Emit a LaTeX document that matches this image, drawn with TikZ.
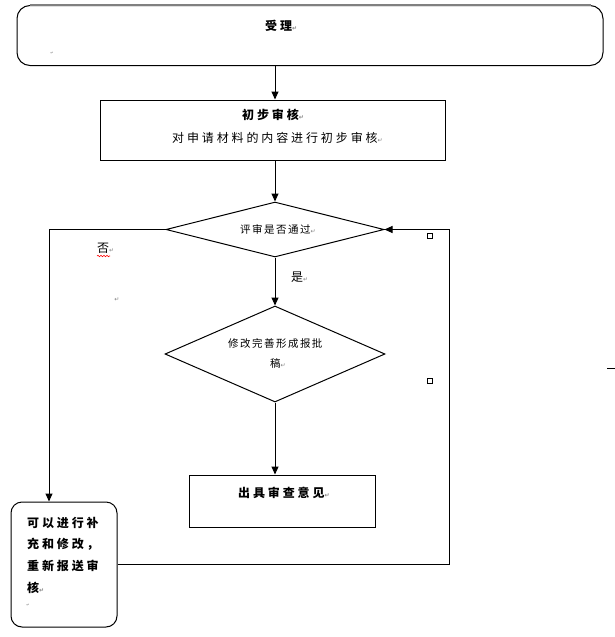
\documentclass[tikz,border=0pt]{standalone}
\usepackage{fontspec}
\usetikzlibrary{arrows.meta,shapes.geometric,decorations.pathmorphing}
\newfontfamily\cjk{Noto Sans CJK SC}
\newfontfamily\djv{DejaVu Sans}
\newcommand{\retm}{{\color{gray}\djv\fontsize{6}{6}\selectfont ↵}}
\newcommand{\tinym}{{\color{gray}\djv\fontsize{4}{4}\selectfont ↵}}
\tikzset{
  ln/.style={line width=1pt, draw=black},
  arr/.style={ln, -{Triangle[length=8pt,width=7pt]}},
  boxshape/.style={ln, rectangle, inner sep=0pt, fill=white},
  rboxshape/.style={boxshape, rounded corners=11pt},
  dshape/.style={ln, diamond, inner sep=0pt, fill=white},
  bigtxt/.style={inner sep=0pt, anchor=west, font=\cjk\addfontfeatures{LetterSpace=24}\fontsize{12}{12}\selectfont},
  boldtxt/.style={bigtxt, font=\cjk\bfseries\addfontfeatures{LetterSpace=24}\fontsize{12}{12}\selectfont},
  smalltxt/.style={inner sep=0pt, anchor=west, font=\cjk\addfontfeatures{LetterSpace=14}\fontsize{10.5}{10.5}\selectfont},
  marksq/.style={ln, rectangle, minimum size=5pt, inner sep=0pt}
}
\begin{document}
\begin{tikzpicture}[x=1pt,y=-1pt]
\useasboundingbox (0,0) rectangle (615,637);
\fill[white] (0,0) rectangle (615,637);
% shapes
\node[rboxshape, minimum width=586pt, minimum height=60pt, rounded corners=13pt] (accept) at (310,35.5) {};
\draw[gray, line width=1.2pt] ([xshift=13pt]accept.north west) -- ([xshift=-13pt]accept.north east);
\node[boxshape, minimum width=345pt, minimum height=60pt] (review) at (272.5,130) {};
\node[dshape, minimum width=218pt, minimum height=55pt] (d1) at (275,229.5) {};
\node[dshape, minimum width=220pt, minimum height=96pt] (d2) at (275,354) {};
\node[boxshape, minimum width=186pt, minimum height=52pt] (opinion) at (282,501) {};
\node[rboxshape, minimum width=106pt, minimum height=125pt] (redo) at (64,564.5) {};
% helper coordinates
\coordinate (lx) at (49,0);
\coordinate (rx) at (449,0);
% connectors
\draw[arr] (accept.south -| d1.north) -- (review.north -| d1.north);
\draw[arr] (review.south -| d1.north) -- (d1.north);
\draw[arr] (d1.west) -- (d1.west -| lx) -- (redo.north -| lx);
\draw[arr] (d1.south) -- (d2.north);
\draw[arr] (d2.south) -- (opinion.north -| d2.south);
\draw[arr] (redo.east) -- (redo.east -| rx) -- (d1.east -| rx) -- (d1.east);
% texts
\node[boldtxt] (t0) at (265,26) {受理\retm};
\node[inner sep=0pt] (m0) at (52,53) {\tinym};
\node[boldtxt] (t1a) at (242,115) {初步审核\retm};
\node[bigtxt] (t1b) at (172,138) {对申请材料的内容进行初步审核\retm};
\node[smalltxt] (t2) at (240,229) {评审是否通过\retm};
\node[bigtxt] (tno) at (97,248) {否\retm};
\draw[red, line width=0.6pt, decorate, decoration={snake, amplitude=0.7pt, segment length=3pt}] (97,256) -- (110,256);
\node[inner sep=0pt] (m1) at (117,300) {\retm};
\node[bigtxt] (tyes) at (291,277) {是\retm};
\node[smalltxt] (t5a) at (228,343) {修改完善形成报批};
\node[smalltxt] (t5b) at (270,363) {稿\retm};
\node[boldtxt] (t6) at (238,493) {出具审查意见\retm};
\node[boldtxt] (r1) at (27,523) {可以进行补};
\node[boldtxt] (r2) at (27,544) {充和修改，};
\node[boldtxt] (r3) at (27,566) {重新报送审};
\node[boldtxt] (r4) at (27,588) {核\retm};
\node[inner sep=0pt] (m2) at (28,605) {\tinym};
% small marks
\node[marksq] (sq1) at (429.5,235.5) {};
\node[marksq] (sq2) at (429.5,380.5) {};
\coordinate (e1) at (607,368);
\coordinate (e2) at (615,368);
\draw[line width=0.8pt] (e1) -- (e2);
\end{tikzpicture}
\end{document}
